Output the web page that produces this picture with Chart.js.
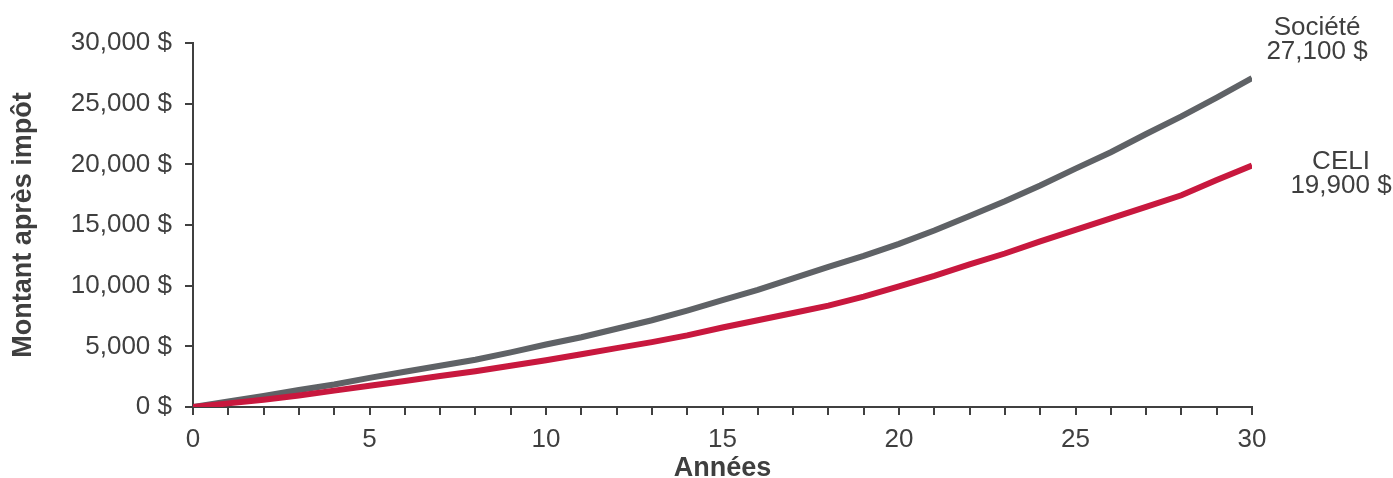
<!DOCTYPE html>
<html lang="fr">
<head>
<meta charset="utf-8">
<title>Montant après impôt</title>
<script src="https://cdn.jsdelivr.net/npm/chart.js@4/dist/chart.umd.min.js"></script>
<style>
  html, body { margin: 0; padding: 0; background: #ffffff; }
  #wrap { width: 1393px; height: 478px; }
</style>
</head>
<body>
<div id="wrap"><canvas id="chart" width="1393" height="478"></canvas></div>
<script>
// Years of investment
const years = [0, 1, 2, 3, 4, 5, 6, 7, 8, 9, 10, 11, 12, 13, 14, 15, 16, 17, 18, 19, 20,
               21, 22, 23, 24, 25, 26, 27, 28, 29, 30];

// After-tax amount held through a corporation
const societe = [0, 450, 900, 1400, 1850, 2400, 2900, 3400, 3900, 4500, 5150,
                 5750, 6450, 7150, 7950, 8800, 9650, 10600, 11550, 12450, 13450,
                 14550, 15750, 16950, 18250, 19650, 21000, 22500, 23950, 25500, 27100];

// After-tax amount held in a TFSA (CELI)
const celi = [0, 300, 600, 950, 1350, 1750, 2150, 2550, 2950, 3400, 3850,
              4350, 4850, 5350, 5900, 6550, 7150, 7750, 8350, 9100, 9950,
              10800, 11750, 12650, 13650, 14600, 15550, 16500, 17450, 18700, 19900];

const seriesNames = { societe: 'Société', celi: 'CELI' };
const yTickValues = [0, 5000, 10000, 15000, 20000, 25000, 30000];
const xLabelEvery = 5;

const FONT = "'Liberation Sans', Arial, Helvetica, sans-serif";
const TEXT = '#3f3f3f';
const AXIS = '#404040';
const GREY = '#5f6266';
const RED = '#c8183e';

const money = v => Number(v).toLocaleString('en-US') + ' $';

// End-of-line labels: series name and final value, anchored to the last point
const endLabels = {
  id: 'endLabels',
  afterDraw(chart) {
    const { ctx, scales: { x, y } } = chart;
    const lastX = years[years.length - 1];
    const px = x.getPixelForValue(lastX);
    const items = [
      { name: seriesNames.societe, value: societe[societe.length - 1], dx: 65, nameDy: -50, valDy: -26 },
      { name: seriesNames.celi, value: celi[celi.length - 1], dx: 89, nameDy: -4, valDy: 20 }
    ];
    ctx.save();
    ctx.fillStyle = TEXT;
    ctx.font = `26px ${FONT}`;
    ctx.textAlign = 'center';
    ctx.textBaseline = 'middle';
    items.forEach(it => {
      const py = y.getPixelForValue(it.value);
      ctx.fillText(it.name, px + it.dx, py + it.nameDy);
      ctx.fillText(money(it.value), px + it.dx, py + it.valDy);
    });
    ctx.restore();
  }
};

new Chart(document.getElementById('chart'), {
  type: 'line',
  data: {
    datasets: [
      {
        label: seriesNames.celi,
        data: years.map((yr, i) => ({ x: yr, y: celi[i] })),
        borderColor: RED,
        backgroundColor: RED,
        borderWidth: 6,
        pointRadius: 0,
        tension: 0
      },
      {
        label: seriesNames.societe,
        data: years.map((yr, i) => ({ x: yr, y: societe[i] })),
        borderColor: GREY,
        backgroundColor: GREY,
        borderWidth: 6,
        pointRadius: 0,
        tension: 0
      }
    ]
  },
  options: {
    responsive: false,
    animation: false,
    devicePixelRatio: 1,
    layout: { padding: { left: 0, right: 141, top: 43, bottom: 0 } },
    plugins: {
      legend: { display: false },
      tooltip: { enabled: false }
    },
    scales: {
      x: {
        type: 'linear',
        min: years[0],
        max: years[years.length - 1],
        afterFit(scale) { scale.height = 71; },
        border: { display: true, color: AXIS, width: 2 },
        grid: { drawOnChartArea: false, drawTicks: true, tickLength: 8, color: AXIS, lineWidth: 2 },
        afterBuildTicks(scale) { scale.ticks = years.map(v => ({ value: v })); },
        ticks: {
          autoSkip: false,
          maxRotation: 0,
          padding: 9,
          color: TEXT,
          font: { family: FONT, size: 26 },
          callback: v => (v % xLabelEvery === 0 ? String(v) : '')
        },
        title: {
          display: true,
          text: 'Années',
          color: TEXT,
          font: { family: FONT, size: 27, weight: 'bold' },
          padding: { top: 0, bottom: -7 }
        }
      },
      y: {
        min: yTickValues[0],
        max: yTickValues[yTickValues.length - 1],
        afterFit(scale) { scale.width = 193; },
        border: { display: true, color: AXIS, width: 2 },
        grid: { drawOnChartArea: false, drawTicks: true, tickLength: 8, color: AXIS, lineWidth: 2 },
        afterBuildTicks(scale) { scale.ticks = yTickValues.map(v => ({ value: v })); },
        ticks: {
          padding: 13,
          color: TEXT,
          font: { family: FONT, size: 26 },
          callback: v => money(v)
        },
        title: {
          display: true,
          text: 'Montant après impôt',
          color: TEXT,
          font: { family: FONT, size: 27, weight: 'bold' },
          padding: { top: 7, bottom: 0 }
        }
      }
    }
  },
  plugins: [endLabels]
});
</script>
</body>
</html>
